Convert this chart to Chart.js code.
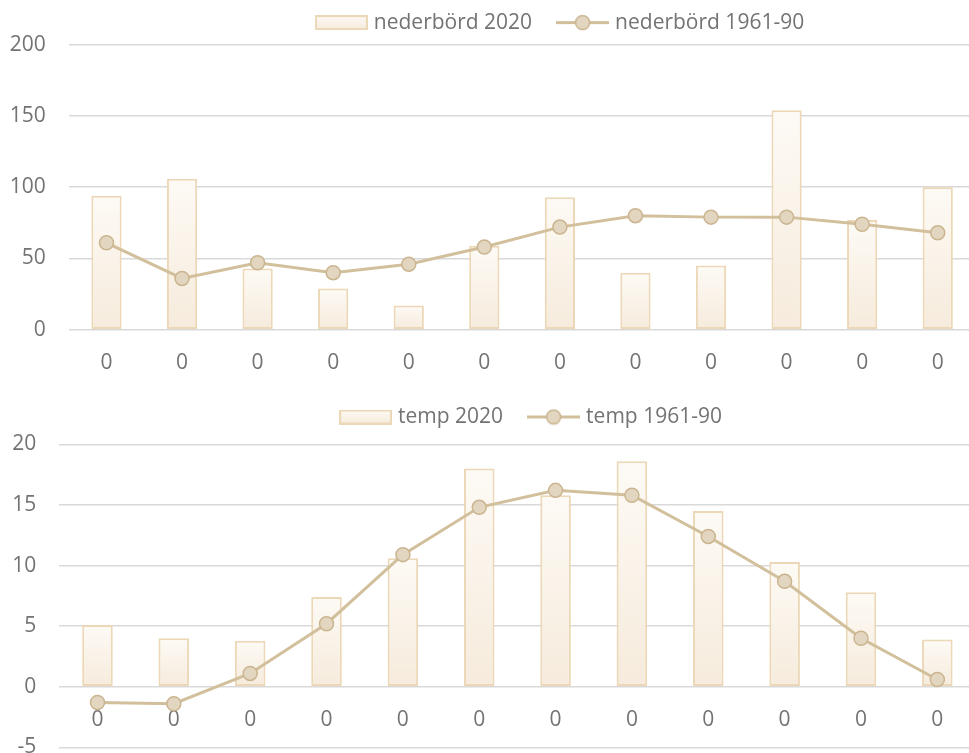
<!DOCTYPE html>
<html lang="sv">
<head>
<meta charset="utf-8">
<title>Nederbörd och temperatur 2020</title>
<script src="https://cdn.jsdelivr.net/npm/chart.js@4"></script>
<style>
  html, body { margin: 0; padding: 0; background: #ffffff; width: 969px; height: 753px; overflow: hidden; }
  .panel { position: absolute; left: 0; width: 984px; }
  #precipPanel { top: 0; height: 380px; }
  #tempPanel { top: 380px; height: 403px; }
  canvas { display: block; }
</style>
</head>
<body>
<div class="panel" id="precipPanel"><canvas id="precipChart" width="984" height="380"></canvas></div>
<div class="panel" id="tempPanel"><canvas id="tempChart" width="984" height="403"></canvas></div>
<script>
// Category labels along the x axis (one per month)
const monthLabels = ['0', '0', '0', '0', '0', '0', '0', '0', '0', '0', '0', '0'];

// Precipitation, mm
const precipBarLabel = 'nederbörd 2020';
const precipLineLabel = 'nederbörd 1961-90';
const precip2020 = [94, 106, 43, 29, 17, 59, 93, 40, 45, 154, 77, 100];
const precipNormal = [61, 36, 47, 40, 46, 58, 72, 80, 79, 79, 74, 68];
const precipTicks = [0, 50, 100, 150, 200];

// Temperature, °C
const tempBarLabel = 'temp 2020';
const tempLineLabel = 'temp 1961-90';
const temp2020 = [5.1, 4.0, 3.8, 7.4, 10.6, 18.0, 15.8, 18.6, 14.5, 10.3, 7.8, 3.9];
const tempNormal = [-1.3, -1.4, 1.1, 5.2, 10.9, 14.8, 16.2, 15.8, 12.4, 8.7, 4.0, 0.6];
const tempTicks = [-5, 0, 5, 10, 15, 20];

// Styling
const TEXT = '#737373';
const GRID = '#d9d9d9';
const BAR_TOP = '#fdfaf5';
const BAR_BOTTOM = '#f6ebdc';
const BAR_EDGE = '#ecd7b6';
const LINE = '#d2bf9b';
const POINT_FILL = '#e3d6c1';
const POINT_EDGE = '#cbb590';
const FONT = { family: '"Open Sans", "DejaVu Sans", sans-serif', size: 21 };

function barGradient(ctx) {
  const chart = ctx.chart;
  if (!chart.chartArea || ctx.type !== 'data') return BAR_BOTTOM;
  const y = chart.scales.y;
  const top = y.getPixelForValue(ctx.raw);
  const base = y.getPixelForValue(0);
  const g = chart.ctx.createLinearGradient(0, Math.min(top, base), 0, Math.max(top, base));
  g.addColorStop(0, BAR_TOP);
  g.addColorStop(1, BAR_BOTTOM);
  return g;
}

// Legend keys: a filled swatch for the bars, a line with marker for the normal
function makeSwatchKey() {
  const c = document.createElement('canvas');
  c.width = 53; c.height = 15;
  const g = c.getContext('2d');
  const grad = g.createLinearGradient(0, 0, 0, 15);
  grad.addColorStop(0, BAR_TOP);
  grad.addColorStop(1, BAR_BOTTOM);
  g.fillStyle = grad;
  g.fillRect(0, 0, 53, 15);
  g.strokeStyle = BAR_EDGE;
  g.lineWidth = 2;
  g.strokeRect(1, 1, 51, 13);
  return c;
}
function makeLineKey() {
  const c = document.createElement('canvas');
  c.width = 53; c.height = 17;
  const g = c.getContext('2d');
  g.strokeStyle = LINE;
  g.lineWidth = 3;
  g.beginPath(); g.moveTo(0, 8.5); g.lineTo(53, 8.5); g.stroke();
  g.beginPath(); g.arc(26.5, 8.5, 7, 0, Math.PI * 2);
  g.fillStyle = POINT_FILL; g.fill();
  g.lineWidth = 1.5; g.strokeStyle = POINT_EDGE; g.stroke();
  return c;
}

// Moves the legend row to a fixed centre and height after layout
const legendPlacement = {
  id: 'legendPlacement',
  afterLayout(chart, args, opts) {
    const lg = chart.legend;
    if (!lg) return;
    const dx = opts.centerX - (lg.left + lg.right) / 2;
    lg.left += dx;
    lg.right += dx;
    const pad = chart.options.plugins.legend.labels.padding;
    lg.top = opts.centerY - FONT.size / 2 - pad;
  }
};

function buildChart(canvasId, p) {
  const swatch = makeSwatchKey();
  const lineKey = makeLineKey();
  return new Chart(document.getElementById(canvasId), {
    type: 'bar',
    data: {
      labels: monthLabels,
      datasets: [
        {
          type: 'bar',
          label: p.barLabel,
          data: p.barData,
          order: 2,
          backgroundColor: barGradient,
          borderColor: BAR_EDGE,
          borderWidth: 2,
          borderSkipped: false,
          categoryPercentage: 1,
          barPercentage: 0.4
        },
        {
          type: 'line',
          label: p.lineLabel,
          data: p.lineData,
          order: 1,
          borderColor: LINE,
          borderWidth: 3,
          tension: 0,
          fill: false,
          pointRadius: 7,
          pointBackgroundColor: POINT_FILL,
          pointBorderColor: POINT_EDGE,
          pointBorderWidth: 1.5
        }
      ]
    },
    options: {
      responsive: false,
      animation: false,
      events: [],
      layout: { padding: { top: p.padTop, bottom: p.padBottom, left: 0, right: 3.6 } },
      plugins: {
        tooltip: { enabled: false },
        legend: {
          position: 'top',
          maxHeight: p.legendHeight,
          labels: {
            usePointStyle: true,
            pointStyleWidth: 44,
            boxHeight: 16,
            padding: 28.5,
            color: TEXT,
            font: FONT,
            generateLabels: (chart) => [
              { text: p.barLabel, pointStyle: swatch, datasetIndex: 0, hidden: false, lineWidth: 0, fontColor: TEXT },
              { text: p.lineLabel, pointStyle: lineKey, datasetIndex: 1, hidden: false, lineWidth: 0, fontColor: TEXT }
            ]
          }
        },
        legendPlacement: { centerX: p.legendCenterX, centerY: p.legendCenterY }
      },
      scales: {
        x: {
          position: p.xPosition,
          grid: { display: false },
          border: { display: false },
          ticks: { padding: 12.3, color: TEXT, font: FONT, maxRotation: 0, autoSkip: false },
          afterFit: (s) => { s.height = p.xHeight; }
        },
        y: {
          min: p.ticks[0],
          max: p.ticks[p.ticks.length - 1],
          grid: { color: GRID, lineWidth: 1.5, drawTicks: false },
          border: { display: false },
          ticks: { padding: 23, color: TEXT, font: FONT },
          afterBuildTicks: (s) => { s.ticks = p.ticks.map(v => ({ value: v })); },
          afterFit: (s) => { s.width = p.yWidth; }
        }
      }
    },
    plugins: [legendPlacement]
  });
}

function drawAll() {
  buildChart('precipChart', {
    barLabel: precipBarLabel, lineLabel: precipLineLabel,
    barData: precip2020, lineData: precipNormal, ticks: precipTicks,
    padTop: 0, padBottom: 5.3, legendHeight: 44.7,
    legendCenterX: 561.75, legendCenterY: 22.6,
    xPosition: 'bottom', xHeight: 45, yWidth: 68.7
  });
  buildChart('tempChart', {
    barLabel: tempBarLabel, lineLabel: tempLineLabel,
    barData: temp2020, lineData: tempNormal, ticks: tempTicks,
    padTop: 20, padBottom: 13.3, legendHeight: 44.3,
    legendCenterX: 532.75, legendCenterY: 37,
    xPosition: { y: 0 }, xHeight: 0, yWidth: 59.3
  });
}

if (document.fonts && document.fonts.load) {
  document.fonts.load('21px "Open Sans"').then(drawAll, drawAll);
} else {
  drawAll();
}
</script>
</body>
</html>
